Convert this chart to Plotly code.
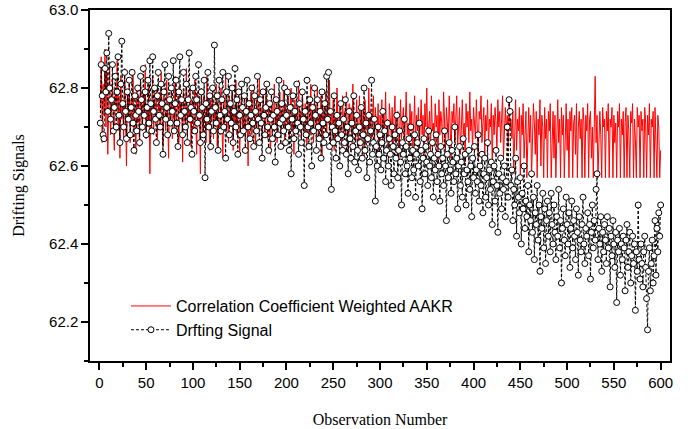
import plotly.graph_objects as go

obs = list(range(1, 601))

drift = [
62.71, 62.86, 62.78, 62.68, 62.67, 62.85, 62.79, 62.89, 62.74, 62.94, 62.80, 62.72, 62.77, 62.86, 62.69, 62.75, 62.83, 62.70, 62.79, 62.88,
62.73, 62.66, 62.81, 62.92, 62.76, 62.70, 62.84, 62.74, 62.67, 62.79, 62.72, 62.82, 62.68, 62.75, 62.84, 62.71, 62.64, 62.78, 62.73, 62.69,
62.80, 62.74, 62.66, 62.83, 62.77, 62.70, 62.85, 62.73, 62.79, 62.68, 62.75, 62.82, 62.71, 62.87, 62.76, 62.69, 62.88, 62.74, 62.80, 62.72,
62.66, 62.78, 62.84, 62.73, 62.70, 62.81, 62.76, 62.63, 62.79, 62.86, 62.72, 62.75, 62.68, 62.83, 62.77, 62.71, 62.80, 62.74, 62.87, 62.69,
62.76, 62.82, 62.71, 62.65, 62.79, 62.88, 62.73, 62.77, 62.68, 62.84, 62.74, 62.70, 62.81, 62.66, 62.77, 62.89, 62.72, 62.75, 62.63, 62.80,
62.74, 62.69, 62.83, 62.77, 62.71, 62.86, 62.73, 62.66, 62.79, 62.75, 62.68, 62.82, 62.57, 62.76, 62.72, 62.84, 62.70, 62.78, 62.65, 62.74,
62.80, 62.69, 62.91, 62.75, 62.71, 62.78, 62.64, 62.82, 62.73, 62.69, 62.77, 62.84, 62.70, 62.74, 62.62, 62.79, 62.72, 62.83, 62.68, 62.76,
62.71, 62.80, 62.66, 62.74, 62.85, 62.70, 62.77, 62.63, 62.79, 62.73, 62.68, 62.81, 62.75, 62.69, 62.78, 62.64, 62.74, 62.82, 62.70, 62.76,
62.67, 62.73, 62.80, 62.71, 62.65, 62.78, 62.74, 62.69, 62.83, 62.72, 62.66, 62.77, 62.71, 62.62, 62.79, 62.73, 62.68, 62.75, 62.81, 62.70,
62.64, 62.76, 62.72, 62.79, 62.67, 62.73, 62.70, 62.61, 62.77, 62.74, 62.68, 62.82, 62.71, 62.65, 62.76, 62.72, 62.69, 62.80, 62.66, 62.73,
62.79, 62.70, 62.64, 62.75, 62.58, 62.72, 62.78, 62.67, 62.74, 62.69, 62.81, 62.71, 62.63, 62.76, 62.70, 62.66, 62.79, 62.72, 62.55, 62.74,
62.68, 62.82, 62.70, 62.65, 62.77, 62.71, 62.60, 62.75, 62.69, 62.80, 62.73, 62.64, 62.77, 62.70, 62.67, 62.74, 62.62, 62.79, 62.71, 62.66,
62.76, 62.68, 62.83, 62.72, 62.84, 62.65, 62.74, 62.54, 62.70, 62.66, 62.78, 62.69, 62.62, 62.73, 62.67, 62.71, 62.60, 62.76, 62.68, 62.64,
62.72, 62.66, 62.77, 62.63, 62.70, 62.58, 62.74, 62.67, 62.62, 62.71, 62.65, 62.78, 62.61, 62.69, 62.73, 62.64, 62.59, 62.70, 62.66, 62.75,
62.62, 62.68, 62.80, 62.64, 62.71, 62.57, 62.67, 62.73, 62.61, 62.69, 62.82, 62.63, 62.66, 62.72, 62.51, 62.65, 62.60, 62.70, 62.63, 62.68,
62.59, 62.66, 62.74, 62.62, 62.69, 62.56, 62.64, 62.71, 62.60, 62.67, 62.63, 62.55, 62.70, 62.65, 62.58, 62.68, 62.62, 62.73, 62.57, 62.64,
62.69, 62.61, 62.50, 62.66, 62.63, 62.72, 62.58, 62.65, 62.60, 62.53, 62.67, 62.62, 62.70, 62.57, 62.64, 62.59, 62.68, 62.52, 62.63, 62.66,
62.60, 62.71, 62.56, 62.64, 62.49, 62.62, 62.67, 62.58, 62.65, 62.61, 62.55, 62.69, 62.60, 62.63, 62.57, 62.66, 62.52, 62.62, 62.59, 62.68,
62.56, 62.63, 62.60, 62.51, 62.65, 62.58, 62.62, 62.55, 62.69, 62.60, 62.46, 62.63, 62.57, 62.66, 62.59, 62.53, 62.64, 62.61, 62.56, 62.70,
62.58, 62.62, 62.49, 62.60, 62.65, 62.55, 62.61, 62.52, 62.67, 62.58, 62.63, 62.50, 62.59, 62.56, 62.64, 62.54, 62.60, 62.47, 62.62, 62.57,
62.65, 62.53, 62.59, 62.56, 62.68, 62.51, 62.60, 62.55, 62.63, 62.48, 62.58, 62.62, 62.52, 62.57, 62.66, 62.50, 62.59, 62.54, 62.61, 62.45,
62.56, 62.60, 62.51, 62.64, 62.55, 62.43, 62.58, 62.53, 62.62, 62.49, 62.57, 62.54, 62.60, 62.47, 62.56, 62.70, 62.52, 62.77, 62.74, 62.55,
62.59, 62.46, 62.54, 62.50, 62.62, 62.42, 62.56, 62.52, 62.48, 62.57, 62.40, 62.53, 62.49, 62.60, 62.44, 62.51, 62.47, 62.55, 62.38, 62.50,
62.46, 62.58, 62.43, 62.52, 62.36, 62.48, 62.45, 62.55, 62.41, 62.50, 62.33, 62.47, 62.44, 62.53, 62.39, 62.49, 62.35, 62.46, 62.51, 62.42,
62.48, 62.38, 62.53, 62.45, 62.40, 62.50, 62.43, 62.36, 62.47, 62.42, 62.54, 62.39, 62.46, 62.30, 62.44, 62.49, 62.41, 62.37, 62.52, 62.45,
62.40, 62.48, 62.34, 62.44, 62.51, 62.39, 62.46, 62.42, 62.36, 62.49, 62.43, 62.32, 62.47, 62.41, 62.38, 62.45, 62.52, 62.40, 62.35, 62.44,
62.42, 62.48, 62.37, 62.45, 62.31, 62.43, 62.50, 62.39, 62.46, 62.41, 62.54, 62.58, 62.36, 62.44, 62.40, 62.47, 62.33, 62.43, 62.38, 62.45,
62.41, 62.35, 62.47, 62.39, 62.44, 62.29, 62.42, 62.37, 62.46, 62.40, 62.34, 62.43, 62.25, 62.41, 62.38, 62.44, 62.32, 62.40, 62.36, 62.42,
62.39, 62.28, 62.41, 62.45, 62.34, 62.38, 62.43, 62.30, 62.37, 62.42, 62.35, 62.40, 62.23, 62.38, 62.33, 62.50, 62.36, 62.31, 62.40, 62.35,
62.29, 62.38, 62.42, 62.34, 62.26, 62.18, 62.33, 62.39, 62.28, 62.35, 62.41, 62.30, 62.37, 62.46, 62.32, 62.44, 62.38, 62.48, 62.42, 62.50,
]

aakr = [
62.75, 62.88, 62.66, 62.81, 62.73, 62.90, 62.70, 62.84, 62.63, 62.79, 62.86, 62.68, 62.77, 62.82, 62.71, 62.64, 62.80, 62.74, 62.87, 62.69,
62.78, 62.62, 62.83, 62.72, 62.76, 62.67, 62.85, 62.70, 62.60, 62.79, 62.74, 62.81, 62.66, 62.77, 62.72, 62.84, 62.69, 62.75, 62.63, 62.80,
62.71, 62.78, 62.65, 62.82, 62.74, 62.69, 62.79, 62.73, 62.86, 62.67, 62.76, 62.70, 62.81, 62.58, 62.75, 62.72, 62.83, 62.68, 62.77, 62.71,
62.80, 62.66, 62.74, 62.79, 62.70, 62.84, 62.72, 62.65, 62.78, 62.75, 62.69, 62.82, 62.73, 62.62, 62.77, 62.71, 62.80, 62.67, 62.76, 62.72,
62.83, 62.69, 62.74, 62.78, 62.66, 62.81, 62.72, 62.76, 62.61, 62.79, 62.73, 62.70, 62.85, 62.68, 62.75, 62.71, 62.80, 62.65, 62.77, 62.73,
62.69, 62.82, 62.74, 62.63, 62.79, 62.71, 62.76, 62.58, 62.80, 62.72, 62.68, 62.78, 62.74, 62.66, 62.83, 62.70, 62.75, 62.64, 62.77, 62.72,
62.79, 62.67, 62.74, 62.70, 62.81, 62.65, 62.76, 62.72, 62.68, 62.80, 62.73, 62.62, 62.77, 62.71, 62.84, 62.69, 62.74, 62.66, 62.78, 62.72,
62.70, 62.79, 62.64, 62.75, 62.71, 62.82, 62.68, 62.74, 62.77, 62.63, 62.72, 62.80, 62.69, 62.75, 62.71, 62.67, 62.78, 62.73, 62.60, 62.76,
62.72, 62.79, 62.68, 62.74, 62.81, 62.70, 62.65, 62.77, 62.73, 62.69, 62.83, 62.71, 62.75, 62.66, 62.78, 62.72, 62.69, 62.80, 62.74, 62.67,
62.76, 62.71, 62.63, 62.78, 62.73, 62.69, 62.81, 62.70, 62.75, 62.66, 62.77, 62.72, 62.79, 62.68, 62.74, 62.71, 62.82, 62.65, 62.76, 62.73,
62.70, 62.78, 62.67, 62.74, 62.80, 62.69, 62.72, 62.63, 62.77, 62.71, 62.75, 62.68, 62.82, 62.70, 62.74, 62.66, 62.79, 62.72, 62.69, 62.76,
62.71, 62.64, 62.78, 62.73, 62.68, 62.81, 62.70, 62.75, 62.66, 62.77, 62.72, 62.69, 62.80, 62.67, 62.74, 62.71, 62.78, 62.62, 62.75, 62.70,
62.73, 62.79, 62.68, 62.75, 62.71, 62.82, 62.66, 62.74, 62.70, 62.77, 62.64, 62.73, 62.69, 62.80, 62.71, 62.67, 62.76, 62.72, 62.65, 62.78,
62.70, 62.74, 62.68, 62.79, 62.72, 62.63, 62.76, 62.71, 62.75, 62.67, 62.81, 62.69, 62.73, 62.66, 62.77, 62.71, 62.64, 62.78, 62.70, 62.74,
62.68, 62.75, 62.62, 62.77, 62.71, 62.73, 62.66, 62.80, 62.69, 62.74, 62.67, 62.72, 62.78, 62.64, 62.75, 62.70, 62.68, 62.76, 62.63, 62.73,
62.70, 62.77, 62.65, 62.74, 62.69, 62.79, 62.67, 62.72, 62.62, 62.76, 62.71, 62.68, 62.75, 62.64, 62.73, 62.78, 62.66, 62.71, 62.74, 62.60,
62.72, 62.77, 62.67, 62.70, 62.75, 62.63, 62.73, 62.79, 62.68, 62.71, 62.65, 62.76, 62.70, 62.74, 62.61, 62.72, 62.78, 62.66, 62.73, 62.69,
62.75, 62.64, 62.71, 62.77, 62.68, 62.73, 62.62, 62.76, 62.70, 62.80, 62.66, 62.72, 62.74, 62.63, 62.78, 62.69, 62.71, 62.65, 62.76, 62.70,
62.73, 62.60, 62.77, 62.68, 62.74, 62.71, 62.66, 62.79, 62.70, 62.64, 62.75, 62.72, 62.67, 62.78, 62.69, 62.62, 62.74, 62.71, 62.76, 62.66,
62.72, 62.78, 62.65, 62.70, 62.75, 62.63, 62.73, 62.77, 62.68, 62.71, 62.61, 62.76, 62.70, 62.74, 62.66, 62.79, 62.69, 62.72, 62.64, 62.75,
62.71, 62.67, 62.77, 62.70, 62.62, 62.74, 62.72, 62.78, 62.66, 62.71, 62.75, 62.63, 62.73, 62.69, 62.77, 62.65, 62.72, 62.70, 62.76, 62.60,
62.73, 62.68, 62.75, 62.71, 62.64, 62.77, 62.70, 62.74, 62.66, 62.72, 62.78, 62.62, 62.71, 62.75, 62.69, 62.73, 62.65, 62.76, 62.70, 62.72,
62.67, 62.74, 62.58, 62.71, 62.77, 62.64, 62.72, 62.69, 62.75, 62.57, 62.73, 62.68, 62.76, 62.62, 62.71, 62.74, 62.57, 62.70, 62.75, 62.66,
62.73, 62.57, 62.69, 62.76, 62.71, 62.63, 62.74, 62.57, 62.72, 62.68, 62.77, 62.60, 62.73, 62.70, 62.57, 62.75, 62.67, 62.72, 62.57, 62.74,
62.69, 62.76, 62.57, 62.71, 62.74, 62.62, 62.73, 62.57, 62.70, 62.77, 62.66, 62.72, 62.57, 62.75, 62.68, 62.73, 62.57, 62.71, 62.76, 62.64,
62.72, 62.57, 62.74, 62.69, 62.75, 62.57, 62.71, 62.73, 62.63, 62.76, 62.57, 62.70, 62.74, 62.67, 62.72, 62.57, 62.75, 62.71, 62.57, 62.73,
62.69, 62.76, 62.57, 62.72, 62.74, 62.62, 62.70, 62.57, 62.75, 62.83, 62.66, 62.73, 62.57, 62.71, 62.74, 62.68, 62.57, 62.75, 62.70, 62.72,
62.57, 62.74, 62.69, 62.76, 62.57, 62.72, 62.70, 62.75, 62.57, 62.73, 62.66, 62.71, 62.57, 62.74, 62.70, 62.76, 62.57, 62.72, 62.68, 62.74,
62.57, 62.71, 62.75, 62.57, 62.73, 62.69, 62.57, 62.74, 62.71, 62.76, 62.57, 62.72, 62.67, 62.57, 62.75, 62.70, 62.73, 62.57, 62.74, 62.69,
62.72, 62.57, 62.75, 62.71, 62.57, 62.73, 62.68, 62.76, 62.57, 62.72, 62.70, 62.74, 62.57, 62.75, 62.66, 62.57, 62.73, 62.70, 62.57, 62.64,
]

x_ticks = [0, 50, 100, 150, 200, 250, 300, 350, 400, 450, 500, 550, 600]
y_ticks = [62.2, 62.4, 62.6, 62.8, 63.0]

fig = go.Figure()
fig.add_trace(go.Scatter(
    x=obs, y=aakr, mode="lines", name="Correlation Coefficient Weighted AAKR",
    line=dict(color="#ff0000", width=1),
))
fig.add_trace(go.Scatter(
    x=obs, y=drift, mode="lines+markers", name="Drfting Signal",
    line=dict(color="black", width=1, dash="3px,2px"),
    marker=dict(symbol="circle", size=6, color="white", line=dict(color="black", width=1)),
))

axis_common = dict(
    showline=True, linecolor="black", linewidth=1.5, mirror=True,
    ticks="outside", ticklen=7, tickwidth=1.5, tickcolor="black",
    showgrid=False, zeroline=False, automargin=False,
    tickfont=dict(family="Liberation Sans, Arial", size=15, color="black"),
)

fig.update_xaxes(
    range=[-10, 610], tickvals=x_ticks,
    minor=dict(ticks="outside", dtick=25, tick0=0, ticklen=4, tickwidth=1.5, tickcolor="black", showgrid=False),
    title=dict(text="Observation Number", standoff=24,
               font=dict(family="Liberation Serif, Times New Roman", size=16, color="black")),
    **axis_common,
)
fig.update_yaxes(
    range=[62.1, 63.0], tickvals=y_ticks, tickformat=".1f",
    minor=dict(ticks="outside", dtick=0.1, tick0=62.1, ticklen=4, tickwidth=1.5, tickcolor="black", showgrid=False),
    title=dict(text="Drifting Signals", standoff=20,
               font=dict(family="Liberation Serif, Times New Roman", size=16, color="black")),
    **axis_common,
)

fig.update_layout(
    width=691, height=429,
    margin=dict(l=90, r=21, t=10, b=68),
    paper_bgcolor="white", plot_bgcolor="white",
    showlegend=True,
    legend=dict(
        x=0.062, y=0.205, xanchor="left", yanchor="top",
        bgcolor="rgba(0,0,0,0)", borderwidth=0,
        font=dict(family="Liberation Sans, Arial", size=16, color="black"),
        tracegroupgap=0, itemwidth=40,
    ),
)

fig.write_html("out.html", config={"displayModeBar": False},
               post_script="document.body.style.margin='0';")
